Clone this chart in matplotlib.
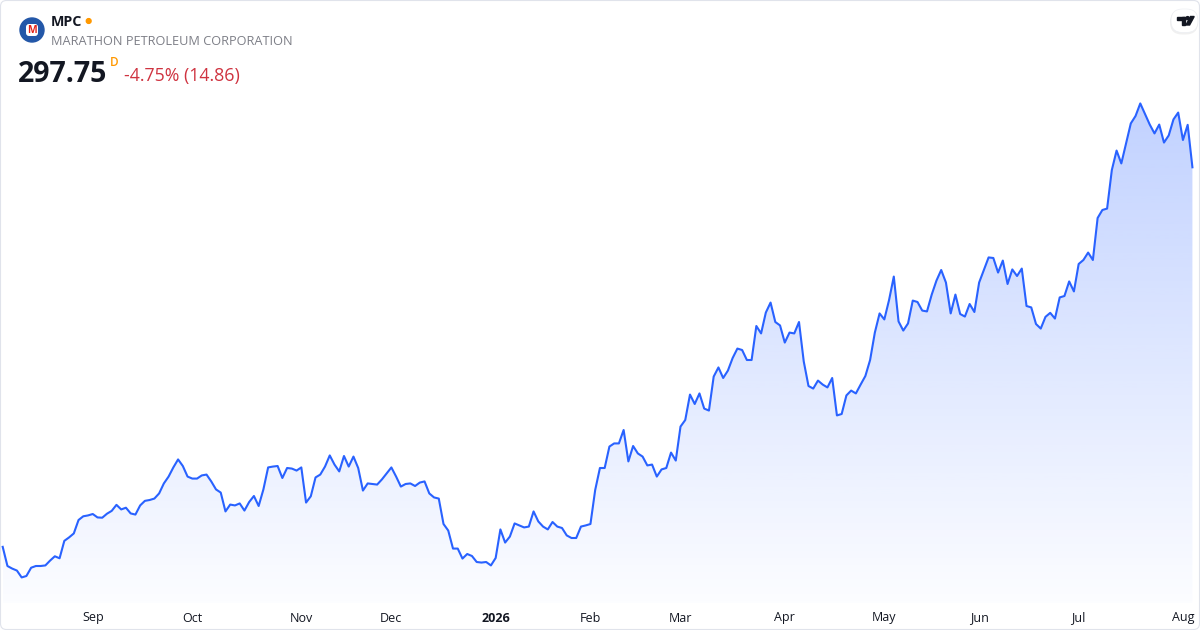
import matplotlib.pyplot as plt
import matplotlib.colors as mcolors
import matplotlib.transforms as mtransforms
from matplotlib.patches import Circle, FancyBboxPatch, Polygon, Rectangle
import numpy as np
import pandas as pd

plt.rcParams['font.family'] = ['Open Sans', 'DejaVu Sans']

# header texts
ticker = "MPC"
company = "MARATHON PETROLEUM CORPORATION"
last_price = "297.75"
interval = "D"
change_text = "-4.75% (14.86)"

# NYSE trading days, Aug 2025 - Aug 2026
holidays = ["2025-09-01", "2025-11-27", "2025-12-25", "2026-01-01", "2026-01-19",
            "2026-02-16", "2026-04-03", "2026-05-25", "2026-06-19", "2026-07-03"]
dates = pd.bdate_range("2025-08-05", "2026-08-05")
dates = dates[~dates.isin(pd.to_datetime(holidays))]

# daily closes
close = [
    164.9, 158.2, 157.3, 156.6, 154.2, 154.7, 157.6, 158.2, 158.2, 158.4,
    160.1, 161.6, 160.9, 167.0, 168.2, 169.6, 174.3, 175.6, 175.9, 176.4,
    175.2, 175.1, 176.5, 177.5, 179.6, 178.0, 178.6, 176.6, 176.2, 179.4,
    181.0, 181.3, 181.8, 183.6, 187.1, 189.5, 192.7, 195.5, 193.2, 189.5,
    188.8, 188.8, 189.9, 190.2, 187.8, 185.0, 183.9, 177.3, 179.7, 179.4,
    180.1, 177.6, 180.6, 182.7, 179.2, 185.0, 192.7, 193.0, 193.2, 189.0,
    192.5, 192.3, 191.6, 192.7, 180.4, 182.6, 189.2, 190.2, 193.0, 196.9,
    193.7, 191.3, 196.7, 193.0, 196.5, 192.5, 184.6, 187.1, 186.9, 186.7,
    188.5, 190.6, 192.7, 189.5, 186.0, 186.9, 187.1, 186.2, 187.4, 187.8,
    183.6, 182.2, 181.8, 172.9, 170.6, 164.3, 164.3, 160.8, 162.4, 161.7,
    159.6, 159.4, 159.6, 158.4, 161.0, 171.0, 166.4, 168.5, 173.1, 172.4,
    171.7, 172.0, 177.3, 173.8, 172.0, 171.0, 173.6, 172.0, 171.5, 168.9,
    168.0, 168.0, 172.0, 172.4, 172.9, 184.8, 192.5, 192.5, 200.0, 201.1,
    201.1, 205.8, 194.8, 200.2, 197.6, 196.5, 193.4, 193.7, 189.5, 192.0,
    192.5, 197.9, 195.1, 207.0, 209.3, 218.2, 214.9, 218.6, 213.3, 212.6,
    224.5, 227.7, 224.0, 226.6, 231.0, 234.3, 233.8, 230.3, 230.3, 242.2,
    239.6, 246.9, 250.4, 243.6, 242.4, 236.4, 239.9, 239.6, 243.6, 229.8,
    221.2, 220.3, 223.1, 221.7, 220.7, 224.0, 210.9, 211.4, 217.9, 219.6,
    218.6, 221.7, 224.7, 230.3, 239.9, 246.6, 244.5, 251.3, 259.5, 243.8,
    240.6, 243.1, 251.1, 250.6, 247.6, 247.3, 253.2, 258.1, 261.8, 257.4,
    246.6, 253.2, 246.4, 245.5, 249.9, 247.1, 257.4, 261.8, 266.2, 266.0,
    260.9, 265.1, 256.9, 262.0, 259.7, 262.3, 249.2, 248.7, 242.9, 241.3,
    245.4, 246.8, 244.8, 252.2, 252.7, 257.8, 254.3, 263.9, 265.3, 267.9,
    265.3, 280.0, 282.8, 283.3, 296.8, 303.6, 299.1, 306.1, 313.1, 315.7,
    320.1, 316.4, 312.7, 309.6, 312.7, 306.4, 308.9, 314.5, 316.9, 307.3,
    312.61, 297.75,
]
n = min(len(close), len(dates))
close = np.array(close[:n])
dates = dates[:n]
x = np.arange(n)

line_color = '#2962FF'

fig = plt.figure(figsize=(12, 6.3), dpi=100)
fig.patch.set_facecolor('white')

# price pane
ax = fig.add_axes([0, 27 / 630, 1, 603 / 630])
ax.axis('off')
y_bottom, y_top = 145.25, 356.3

fill = ax.fill_between(x, close, y_bottom, color='none', lw=0)
grad = np.zeros((256, 1, 4))
grad[..., :3] = mcolors.to_rgb(line_color)
grad[..., 3] = np.linspace(0.29, 0.015, 256)[:, None]
im = ax.imshow(grad, extent=(x[0], x[-1], y_bottom, close.max()),
               origin='upper', aspect='auto', zorder=1, interpolation='bilinear')
im.set_clip_path(fill.get_paths()[0], transform=ax.transData)
ax.plot(x, close, color=line_color, lw=1.5, zorder=3, solid_joinstyle='round')

ax.set_xlim(-0.57, 252.6)
ax.set_ylim(y_bottom, y_top)

# overlay in pixel coordinates
ov = fig.add_axes([0, 0, 1, 1])
ov.set_xlim(0, 1200)
ov.set_ylim(630, 0)
ov.axis('off')

# month labels at first trading day of each month
lab_tr = mtransforms.blended_transform_factory(ax.transData, ov.transData)
for i in range(1, n):
    if dates[i].month != dates[i - 1].month:
        if dates[i].month == 1:
            ax.text(i, 618, str(dates[i].year), transform=lab_tr, ha='center', va='center',
                    fontsize=9, fontweight='bold', color='#131722')
        else:
            ax.text(i, 618, dates[i].strftime('%b'), transform=lab_tr, ha='center', va='center',
                    fontsize=9, color='#131722')

# card border
ov.add_patch(FancyBboxPatch((0.5, 0.5), 1199, 629, boxstyle='round,pad=0,rounding_size=6',
                            fc='none', ec='#e0e3eb', lw=0.8))

# logo
ov.add_patch(Circle((32, 30), 12, color='#2357a8'))
ov.add_patch(FancyBboxPatch((26, 24), 12, 12, boxstyle='round,pad=0,rounding_size=3',
                            fc='white', ec='none'))
ov.text(32, 30.5, "M", ha='center', va='center', fontsize=7.5, fontweight='bold', color='#e2231a')

# header texts
ov.text(51, 26, ticker, fontsize=10.3, fontweight='bold', color='#131722', va='baseline')
ov.add_patch(Circle((88.7, 21), 2.4, color='#ff9800'))
ov.text(51, 45, company, fontsize=9.2, color='#7d7f87', va='baseline')
ov.text(18, 81.5, last_price, fontsize=20.5, fontweight='bold', color='#131722', va='baseline')
ov.text(109.5, 66, interval, fontsize=8.5, fontweight='semibold', color='#ff9800', va='baseline')
ov.text(124, 80.5, change_text, fontsize=12.8, color='#cf3340', va='baseline')

# TradingView badge
ov.add_patch(FancyBboxPatch((1170, 10), 28, 24.5, boxstyle='round,pad=0,rounding_size=12',
                            fc='#000000', ec='none', alpha=0.06))
ov.add_patch(FancyBboxPatch((1171, 9), 27, 23.5, boxstyle='round,pad=0,rounding_size=11.7',
                            fc='white', ec='#eceef2', lw=0.5))
ov.add_patch(Rectangle((1176.5, 16.5), 8.5, 3, color='#131722'))
ov.add_patch(Rectangle((1182, 16.5), 3, 8.5, color='#131722'))
ov.add_patch(Circle((1187.6, 18.1), 1.5, color='#131722'))
ov.add_patch(Polygon([(1190.5, 16.5), (1194.2, 16.5), (1189.6, 25), (1186, 25)], color='#131722'))

plt.savefig('out.png', dpi=100, facecolor='white')
